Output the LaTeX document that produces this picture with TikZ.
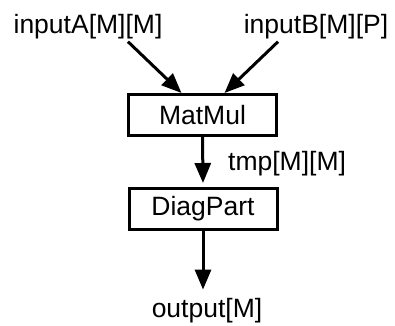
\documentclass[tikz,border=0pt]{standalone}
\usepackage{fontspec}
\setmainfont{Liberation Sans}
\usetikzlibrary{arrows.meta}
\tikzset{
  lbl/.style={inner sep=0pt, anchor=base, font=\fontsize{26.5}{30}\selectfont},
  opbox/.style={draw, line width=3pt, minimum width=148pt, minimum height=41pt, inner sep=0pt, font=\fontsize{26.5}{30}\selectfont},
  arr/.style={line width=3pt, -{Triangle[length=20pt,width=16pt]}}
}
\begin{document}
\begin{tikzpicture}[x=1pt,y=1pt]
\useasboundingbox (0,0) rectangle (395,-325);
\node[lbl] (inA) at (88,-33) {inputA[M][M]};
\node[lbl] (inB) at (316,-33) {inputB[M][P]};
\node[opbox] (mm) at (202.5,-115) {MatMul};
\node[opbox] (dp) at (203,-209) {DiagPart};
\node[lbl, anchor=base west] (tmp) at (228,-170) {tmp[M][M]};
\node[lbl] (out) at (207,-317) {output[M]};
\draw[arr] ([shift={(40pt,-3pt)}]inA.south) -- ([xshift=-21pt]mm.north);
\draw[arr] ([shift={(-38pt,-3pt)}]inB.south) -- ([xshift=22pt]mm.north);
\draw[arr] (mm.south) -- ([yshift=4pt]dp.north);
\draw[arr] (dp.south) -- ([yshift=8pt]dp.south |- out.north);
\end{tikzpicture}
\end{document}
